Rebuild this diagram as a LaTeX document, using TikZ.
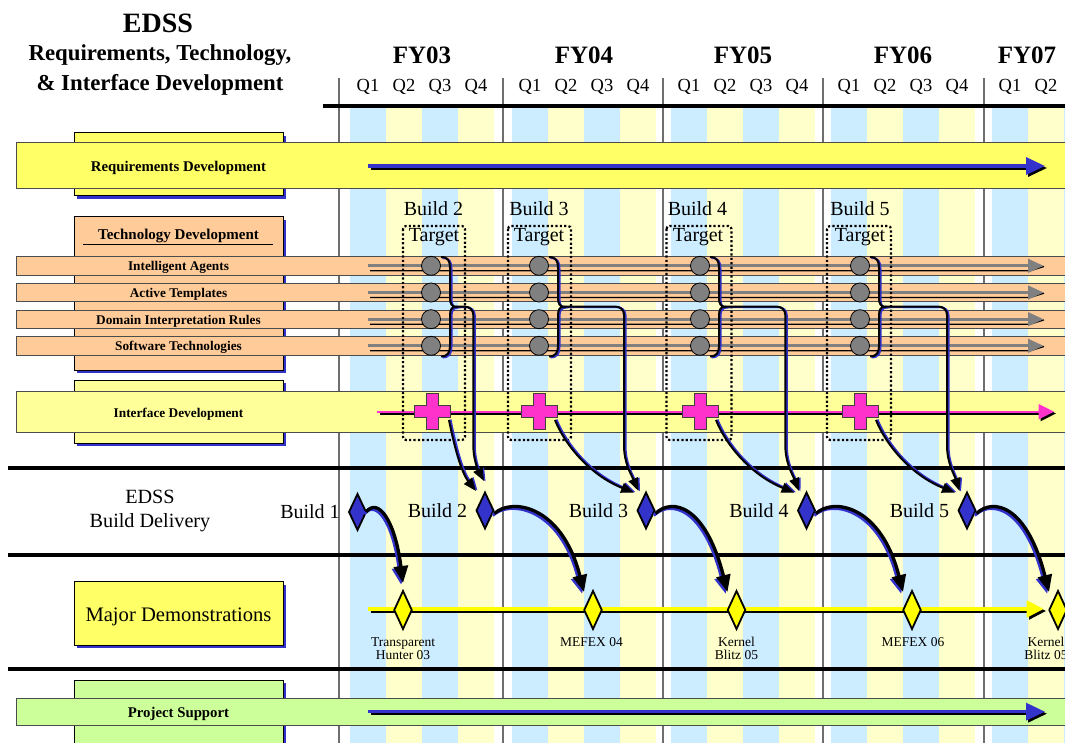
\documentclass[tikz,border=0pt]{standalone}
\usepackage{fontspec}
\setmainfont{Liberation Serif}
\usetikzlibrary{arrows.meta,shapes.geometric,calc}
\definecolor{sblue}{HTML}{CCECFF}
\definecolor{syel}{HTML}{FFFFCC}
\definecolor{reqy}{HTML}{FFFF66}
\definecolor{ifcy}{HTML}{FFFF99}
\definecolor{techo}{HTML}{FFCC99}
\definecolor{supg}{HTML}{CCFF99}
\definecolor{dblue}{HTML}{3333CC}
\definecolor{pinkc}{HTML}{FF33CC}
\definecolor{gcirc}{HTML}{808080}
\definecolor{vline}{HTML}{6E6E6E}
\definecolor{ylw}{HTML}{FFFF00}
\newcommand{\shadowdraw}[3]{\draw[#1,draw=dblue,transform canvas={#2}] #3; \draw[#1,draw=black] #3;}
\begin{document}
\begin{tikzpicture}[x=1pt,y=-1pt,
  every node/.style={inner sep=0pt,outer sep=0pt},
  fs/.style={font=\fontsize{#1}{#1}\selectfont},
  bfs/.style={font=\fontsize{#1}{#1}\selectfont\bfseries},
  barfront/.style={draw=black!70,line width=0.8pt},
  backbox/.style={draw=black,line width=1pt},
  hline/.style={line width=4pt,black},
  bdiam/.style={shape=diamond,draw=black,fill=dblue,line width=1.8pt,minimum width=17pt,minimum height=36pt},
  ddiam/.style={shape=diamond,draw=black,fill=ylw,line width=1.8pt,minimum width=17.5pt,minimum height=38pt},
  circ/.style={circle,draw=black,fill=gcirc,line width=0.8pt,minimum size=19pt},
  bigarr/.style={line width=3.3pt,-{Triangle[length=17pt,width=14pt]}},
  smarr/.style={line width=2pt,-{Triangle[length=13pt,width=10pt]}},
  brc/.style={line width=2pt},
  harr/.style={line width=3.4pt,-{Triangle[length=19pt,width=17pt]}},
]
\useasboundingbox (0,0) rectangle (1065,743);
\clip (0,0) rectangle (1065,743);

% quarter stripes
\foreach \s in {350,512,671,831,992}{
  \fill[sblue] (\s,107) rectangle ({\s+36},743);
  \fill[syel] ({\s+36},107) rectangle ({\s+72},743);
  \fill[sblue] ({\s+72},107) rectangle ({\s+108},743);
  \fill[syel] ({\s+108},107) rectangle ({\s+144},743);
}
% year lines
\foreach \x in {339,503,663,823,984} \draw[vline,line width=1.2pt] (\x,78) -- (\x,743);
% thick separators
\draw[hline] (323,105.7) -- (1065,105.7);
\draw[hline] (8,467.7) -- (1065,467.7);
\draw[hline] (8,555) -- (1065,555);
\draw[hline] (8,668.7) -- (1065,668.7);

% title
\node[bfs=28,anchor=base] (t1) at (158,33) {EDSS};
\node[bfs=22.8,anchor=base] (t2) at (160,61) {Requirements, Technology,};
\node[bfs=22.8,anchor=base] (t3) at (160,91) {\& Interface Development};

% years and quarters
\foreach \s/\f in {350/FY03,512/FY04,671/FY05,831/FY06}{
  \node[bfs=25,anchor=base] (\f) at ({\s+72},64) {\f};
  \foreach \q in {1,2,3,4} \node[fs=18.5,anchor=base] (\f q\q) at ({\s+36*\q-18},92) {Q\q};
}
\node[bfs=25,anchor=base] (FY07) at (1027,64) {FY07};
\node[fs=18.5,anchor=base] (FY07q1) at (1010,92) {Q1};
\node[fs=18.5,anchor=base] (FY07q2) at (1046,92) {Q2};

% Requirements Development
\fill[dblue] (77,135.7) rectangle (286,199);
\draw[backbox,fill=reqy] (74,132.7) rectangle (283,196);
\draw[barfront,fill=reqy] (16,142.7) rectangle (1075,188.3);
\node[bfs=14.8,anchor=base] (req) at (178.5,171.5) {Requirements Development};
\draw[harr,black] (370.5,168) -- (1047,168);
\draw[harr,dblue] (368,166) -- (1045,166);

% Technology Development
\fill[dblue] (77,219.7) rectangle (286,373);
\draw[backbox,fill=techo] (74,216.7) rectangle (283,370);
\node[bfs=15,anchor=base] (tech) at (178.5,239.3) {Technology Development};
\draw[line width=1pt] (83,244.5) -- (273,244.5);
\foreach \y/\t [count=\i] in {265.8/Intelligent Agents,292.5/Active Templates,319.2/Domain Interpretation Rules,345.8/Software Technologies}{
  \draw[barfront,fill=techo] (16,{\y-9.2}) rectangle (1075,{\y+9.2});
  \node[bfs=13.3,anchor=base] (tb\i) at (178.5,{\y+4.8}) {\t};
  \draw[black,line width=1.3pt] (370,{\y+5}) -- (1030,{\y+5}) -- (1044,{\y+0.7});
  \draw[gcirc,line width=3pt,-{Triangle[length=15.6pt,width=13.4pt]}] (368,\y) -- (1043.6,\y);
}

% Interface Development
\fill[dblue] (77,383) rectangle (286,446.3);
\draw[backbox,fill=ifcy] (74,380) rectangle (283,443.3);
\draw[barfront,fill=ifcy] (16,391.7) rectangle (1075,432.3);
\node[bfs=13.3,anchor=base] (ifc) at (178.5,417.7) {Interface Development};
\draw[black,line width=2.2pt,-{Triangle[length=15.5pt,width=15pt]}] (380,413.5) -- (1056,413.5);
\draw[pinkc,line width=2.2pt,-{Triangle[length=15.5pt,width=15pt]}] (377.3,411.7) -- (1054,411.7);

% Major Demonstrations
\fill[dblue] (77,584.7) rectangle (286,648);
\draw[backbox,fill=reqy] (74,581.7) rectangle (283,645);
\node[fs=20.6,anchor=base] (md) at (178.5,621) {Major Demonstrations};
\draw[black,line width=3.4pt,-{Triangle[length=17pt,width=16.6pt]}] (370.5,611) -- (1046,611);
\draw[ylw,line width=3.4pt,-{Triangle[length=17pt,width=16.6pt]}] (368,609) -- (1043.6,609);

% Project Support
\fill[dblue] (77,683) rectangle (286,760);
\draw[backbox,fill=supg] (74,680) rectangle (283,760);
\draw[barfront,fill=supg] (16,698) rectangle (1075,725.5);
\node[bfs=14.8,anchor=base] (ps) at (178.5,717.3) {Project Support};
\draw[harr,black] (370.5,713.7) -- (1047,713.7);
\draw[harr,dblue] (368,711.7) -- (1045,711.7);

% EDSS Build Delivery
\node[fs=20.2,anchor=base] (edss) at (150,503.3) {EDSS};
\node[fs=20.2,anchor=base] (bdl) at (150,527.3) {Build Delivery};

% target boxes
\foreach \c/\l/\a/\b/\n in {433.5/434/403/465/2,539/539/508/571/3,697.5/698/666.5/731.5/4,860/860/827/891/5}{
  \draw[line width=2.2pt,dash pattern=on 2.2pt off 2.2pt,rounded corners=3pt] (\a,226) rectangle (\b,440);
  \node[fs=20,anchor=base] (bt\n) at (\c,215.5) {Build \n};
  \node[fs=20,anchor=base] (tg\n) at (\l,241.5) {Target};
}

% milestone circles, braces, plus signs
\foreach \cx/\px/\n in {431/432.7/2,539/539/3,700/700/4,860/860/5}{
  \foreach \y [count=\r] in {265.8,292.5,319.2,345.8} \node[circ] (c\n\r) at (\cx,\y) {};
  \coordinate (cusp\n) at ({\cx+25},306.7);
  \shadowdraw{brc}{xshift=1.5pt,yshift=-1pt}{({\cx+10},257) .. controls ({\cx+17},257) and ({\cx+19},261) .. ({\cx+19},268) -- ({\cx+19},298) .. controls ({\cx+19},304) and ({\cx+21},306.7) .. ({\cx+25},306.7) .. controls ({\cx+21},306.7) and ({\cx+19},309.4) .. ({\cx+19},315.4) -- ({\cx+19},345.4) .. controls ({\cx+19},352.4) and ({\cx+17},356.4) .. ({\cx+10},356.4)}
  \node (pl\n) at (\px,411.7) {};
  \draw[draw=black!75,fill=pinkc,line width=0.8pt] ({\px-6},393.7) -- ({\px+6},393.7) -- ({\px+6},405.7) -- ({\px+18},405.7) -- ({\px+18},417.7) -- ({\px+6},417.7) -- ({\px+6},429.7) -- ({\px-6},429.7) -- ({\px-6},417.7) -- ({\px-18},417.7) -- ({\px-18},405.7) -- ({\px-6},405.7) -- cycle;
}

% build delivery diamonds
\node[bdiam] (b1) at (357.5,512) {};
\node[bdiam] (b2) at (485,510.5) {};
\node[bdiam] (b3) at (646,510.5) {};
\node[bdiam] (b4) at (806.5,510.5) {};
\node[bdiam] (b5) at (967,510.5) {};
\node[fs=20,anchor=base] (bl1) at (310,518.5) {Build 1};
\node[fs=20,anchor=base] (bl2) at (437.5,517.3) {Build 2};
\node[fs=20,anchor=base] (bl3) at (598.5,517.3) {Build 3};
\node[fs=20,anchor=base] (bl4) at (759,517.3) {Build 4};
\node[fs=20,anchor=base] (bl5) at (919.5,517.3) {Build 5};

% demonstration diamonds
\node[ddiam] (d1) at (403,610) {};
\node[ddiam] (d2) at (593,610) {};
\node[ddiam] (d3) at (736.5,610) {};
\node[ddiam] (d4) at (912,610) {};
\node[ddiam] (d5) at (1058,610) {};
\node[fs=13.5,anchor=base] (dl1a) at (403,646.7) {Transparent};
\node[fs=13.5,anchor=base] (dl1b) at (403,659.5) {Hunter 03};
\node[fs=13.5,anchor=base] (dl2) at (591.5,646.7) {MEFEX 04};
\node[fs=13.5,anchor=base] (dl3a) at (736.5,646.7) {Kernel};
\node[fs=13.5,anchor=base] (dl3b) at (736.5,659.5) {Blitz 05};
\node[fs=13.5,anchor=base] (dl4) at (913,646.7) {MEFEX 06};
\node[fs=13.5,anchor=base] (dl5a) at (1046,646.7) {Kernel};
\node[fs=13.5,anchor=base] (dl5b) at (1046,659.5) {Blitz 05};

% connector end points
\coordinate (vt2) at (484,481);
\coordinate (vt3) at (638.5,491);
\coordinate (vt4) at (799,491);
\coordinate (vt5) at (959.5,491);
\coordinate (pt2) at (476,491);
\coordinate (pt3) at (634,492.7);
\coordinate (pt4) at (794.5,492.7);
\coordinate (pt5) at (955,492.7);

% technology -> build connectors
\foreach \n/\vx in {2/473.3,3/624,4/785.3,5/947}{
  \shadowdraw{smarr}{xshift=1.5pt,yshift=-0.5pt}{(cusp\n) -- ({\vx-8},306.7) .. controls ({\vx-3.6},306.7) and (\vx,310.3) .. (\vx,314.7) -- (\vx,445) .. controls (\vx,463) and ({\vx+7},474) .. (vt\n)}
}
% interface -> build connectors
\shadowdraw{smarr}{xshift=1.5pt,yshift=0.5pt}{(pl2) ++(16.3,8.3) .. controls (454,445) and (461,472) .. (pt2)}
\shadowdraw{smarr}{xshift=1.5pt,yshift=0.5pt}{(pl3) ++(16,8.3) .. controls (565,445) and (590,475) .. (pt3)}
\shadowdraw{smarr}{xshift=1.5pt,yshift=0.5pt}{(pl4) ++(16,8.3) .. controls (726,445) and (751,475) .. (pt4)}
\shadowdraw{smarr}{xshift=1.5pt,yshift=0.5pt}{(pl5) ++(16,8.3) .. controls (886,445) and (911,475) .. (pt5)}

% build -> demonstration connectors
\shadowdraw{bigarr}{xshift=-1.8pt,yshift=-1.8pt}{(b1.east) .. controls (378,497) and (395,520) .. ($(d1.north)+(0,-8)$)}
\shadowdraw{bigarr}{xshift=-1.8pt,yshift=-1.8pt}{($(b2.east)+(1,3)$) .. controls (511.5,497.5) and (562,505) .. ($(d2.north)+(-9,1)$)}
\shadowdraw{bigarr}{xshift=-1.8pt,yshift=-1.8pt}{($(b3.east)+(1,3)$) .. controls (672,497.5) and (705.5,505) .. ($(d3.north)+(-9,1)$)}
\shadowdraw{bigarr}{xshift=-1.8pt,yshift=-1.8pt}{($(b4.east)+(1,3)$) .. controls (833,497.5) and (881,505) .. ($(d4.north)+(-9,1)$)}
\shadowdraw{bigarr}{xshift=-1.8pt,yshift=-1.8pt}{($(b5.east)+(1,3)$) .. controls (993,497.5) and (1027,505) .. ($(d5.north)+(-9,1)$)}
\end{tikzpicture}
\end{document}
